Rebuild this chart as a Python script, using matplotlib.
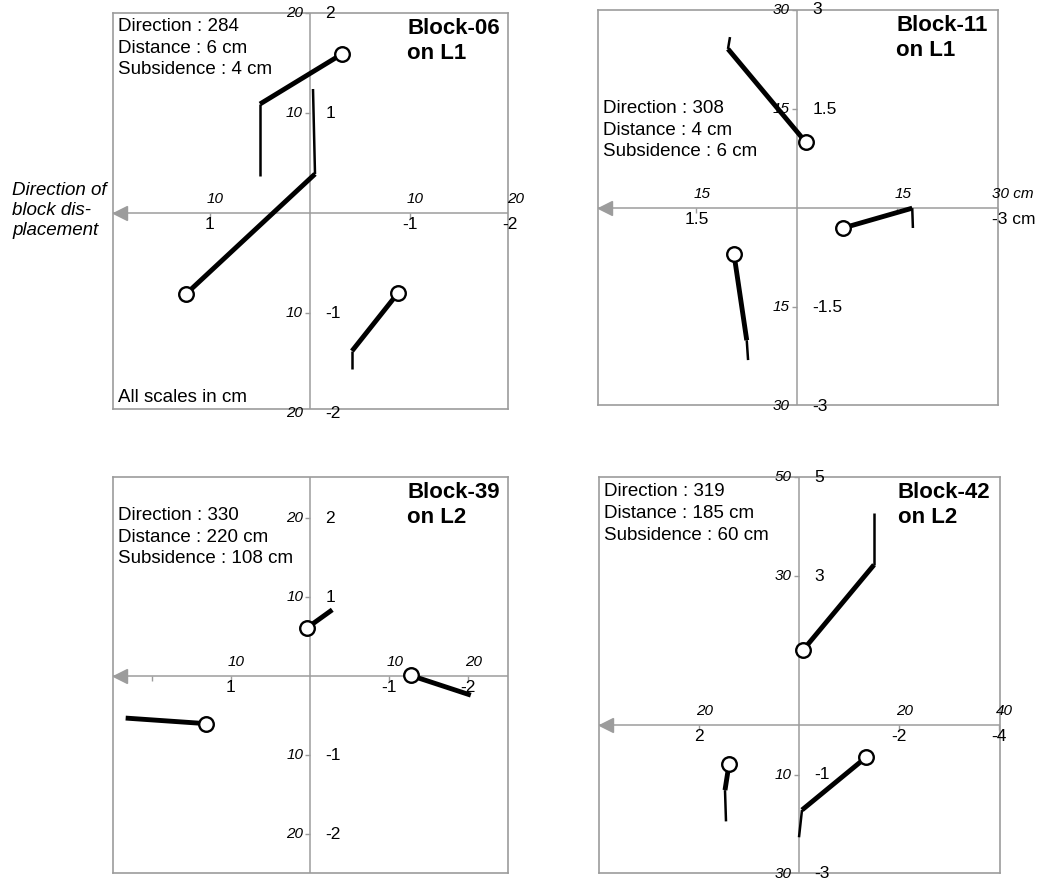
import numpy as np
import matplotlib.pyplot as plt

plt.rcParams['font.family'] = ['Liberation Sans', 'DejaVu Sans']

GRAY = '#9c9c9c'
W, H = 1042, 882

# ---- data (panel units, x axis positive towards the arrow) ----
# Block-06 on L1
b06_circle_x = [-0.32, 1.24, -0.88]
b06_circle_y = [1.59, -0.81, -0.80]
b06_bend_x = [0.50, -0.05, -0.42]
b06_bend_y = [1.09, 0.39, -1.38]
b06_end_x = [0.50, -0.03, -0.42]
b06_end_y = [0.37, 1.24, -1.56]
b06_xticks = [1, -1, -2]
b06_xlab_lo = ['1', '-1', '-2']
b06_xlab_hi = ['10', '10', '20']
b06_yticks = [2, 1, -1, -2]
b06_ylab_r = ['2', '1', '-1', '-2']
b06_ylab_l = ['20', '10', '10', '20']

# Block-11 on L1
b11_circle_x = [-0.13, -0.69, 0.94]
b11_circle_y = [1.00, -0.30, -0.70]
b11_bend_x = [1.03, -1.72, 0.75]
b11_bend_y = [2.41, 0.00, -2.00]
b11_end_x = [1.00, -1.73, 0.73]
b11_end_y = [2.59, -0.30, -2.30]
b11_xticks = [1.5, -1.5, -3]
b11_xlab_lo = ['1.5', '', '-3 cm']
b11_xlab_hi = ['15', '15', '30 cm']
b11_yticks = [3, 1.5, -1.5, -3]
b11_ylab_r = ['3', '1.5', '-1.5', '-3']
b11_ylab_l = ['30', '15', '15', '30']

# Block-39 on L2
b39_circle_x = [0.04, -1.27, 1.32]
b39_circle_y = [0.61, 0.01, -0.60]
b39_bend_x = [-0.28, -2.03, 2.33]
b39_bend_y = [0.84, -0.24, -0.53]
b39_end_x = [-0.28, -2.03, 2.33]
b39_end_y = [0.84, -0.24, -0.53]
b39_xticks = [2, 1, -1, -2]
b39_xlab_lo = ['', '1', '-1', '-2']
b39_xlab_hi = ['', '10', '10', '20']
b39_yticks = [2, 1, -1, -2]
b39_ylab_r = ['2', '1', '-1', '-2']
b39_ylab_l = ['20', '10', '10', '20']

# Block-42 on L2
b42_circle_x = [-0.08, -1.34, 1.40]
b42_circle_y = [1.51, -0.65, -0.79]
b42_bend_x = [-1.50, -0.06, 1.48]
b42_bend_y = [3.23, -1.71, -1.31]
b42_end_x = [-1.50, 0.00, 1.46]
b42_end_y = [4.27, -2.26, -1.94]
b42_xticks = [2, -2, -4]
b42_xlab_lo = ['2', '-2', '-4']
b42_xlab_hi = ['20', '20', '40']
b42_yticks = [5, 3, -1, -3]
b42_ylab_r = ['5', '3', '-1', '-3']
b42_ylab_l = ['50', '30', '10', '30']


def box(left, right, top, bottom):
    return [left / W, 1 - bottom / H, (right - left) / W, (bottom - top) / H]


def draw_panel(ax, xlim, ylim, cx, cy, bx, by, ex, ey,
               xt, xlo, xhi, yt, yr, yl, info, info_y, title):
    ax.set_xlim(*xlim)
    ax.set_ylim(*ylim)
    ax.set_xticks([])
    ax.set_yticks([])
    for s in ax.spines.values():
        s.set_color(GRAY)
        s.set_linewidth(1.2)
    ax.axhline(0, color=GRAY, lw=1.1, zorder=1)
    ax.axvline(0, color=GRAY, lw=1.1, zorder=1)
    # arrow head at left end of horizontal axis
    ax.plot(0.018, 0, marker='<', ms=10, color=GRAY,
            transform=ax.get_yaxis_transform(), clip_on=False)
    ax.plot(xt, np.zeros(len(xt)), ls='none', marker=3, ms=3.5, mew=1, color=GRAY)
    ax.plot(np.zeros(len(yt)), yt, ls='none', marker=0, ms=3.5, mew=1, color=GRAY)

    for x, lo, hi in zip(xt, xlo, xhi):
        ha = 'left' if lo.endswith('cm') else 'center'
        dx = -4 if ha == 'left' else 0
        ax.annotate(lo, (x, 0), xytext=(dx, -3), textcoords='offset points',
                    ha=ha, va='top', fontsize=12.5, annotation_clip=False)
        ha = 'left' if hi.endswith('cm') else 'center'
        dx = -4 if ha == 'left' else 4
        ax.annotate(hi, (x, 0), xytext=(dx, 5), textcoords='offset points',
                    ha=ha, va='bottom', fontsize=11, style='italic',
                    annotation_clip=False)
    for y, r, l in zip(yt, yr, yl):
        ax.annotate(r, (0, y), xytext=(11, 0), textcoords='offset points',
                    ha='left', va='center', fontsize=12.5, annotation_clip=False)
        ax.annotate(l, (0, y), xytext=(-5, 0), textcoords='offset points',
                    ha='right', va='center', fontsize=11, style='italic',
                    annotation_clip=False)

    for i in range(len(cx)):
        ax.plot([cx[i], bx[i]], [cy[i], by[i]], color='black', lw=3.5,
                solid_capstyle='butt', zorder=3)
        ax.plot([bx[i], ex[i]], [by[i], ey[i]], color='black', lw=1.8,
                solid_capstyle='butt', zorder=3)
        ax.plot(cx[i], cy[i], marker='o', ms=10.5, mfc='white', mec='black',
                mew=1.7, zorder=4)

    # info lines, one text per line
    for k, line in enumerate(info):
        ax.annotate(line, (0.012, info_y), xycoords='axes fraction',
                    xytext=(0, -15.6 * k), textcoords='offset points',
                    ha='left', va='top', fontsize=13.5)
    ax.text(0.745, 0.988, title, transform=ax.transAxes, ha='left', va='top',
            fontsize=16, fontweight='bold', linespacing=1.28)


fig = plt.figure(figsize=(W / 100, H / 100), dpi=100)

ax1 = fig.add_axes(box(113, 508, 13, 409))
draw_panel(ax1, (1.97, -1.98), (-1.96, 2.0),
           b06_circle_x, b06_circle_y, b06_bend_x, b06_bend_y, b06_end_x, b06_end_y,
           b06_xticks, b06_xlab_lo, b06_xlab_hi, b06_yticks, b06_ylab_r, b06_ylab_l,
           ['Direction : 284', 'Distance : 6 cm', 'Subsidence : 4 cm'], 0.987,
           'Block-06\non L1')
ax1.text(0.012, 0.03, 'All scales in cm', transform=ax1.transAxes,
         ha='left', va='center', fontsize=13.5)

ax2 = fig.add_axes(box(598, 998, 10, 405))
draw_panel(ax2, (2.97, -3.0), (-2.98, 3.0),
           b11_circle_x, b11_circle_y, b11_bend_x, b11_bend_y, b11_end_x, b11_end_y,
           b11_xticks, b11_xlab_lo, b11_xlab_hi, b11_yticks, b11_ylab_r, b11_ylab_l,
           ['Direction : 308', 'Distance : 4 cm', 'Subsidence : 6 cm'], 0.772,
           'Block-11\non L1')

ax3 = fig.add_axes(box(113, 508, 477, 873))
draw_panel(ax3, (2.49, -2.5), (-2.49, 2.52),
           b39_circle_x, b39_circle_y, b39_bend_x, b39_bend_y, b39_end_x, b39_end_y,
           b39_xticks, b39_xlab_lo, b39_xlab_hi, b39_yticks, b39_ylab_r, b39_ylab_l,
           ['Direction : 330', 'Distance : 220 cm', 'Subsidence : 108 cm'], 0.924,
           'Block-39\non L2')

ax4 = fig.add_axes(box(599, 1000, 477, 873))
draw_panel(ax4, (4.0, -4.02), (-2.98, 5.0),
           b42_circle_x, b42_circle_y, b42_bend_x, b42_bend_y, b42_end_x, b42_end_y,
           b42_xticks, b42_xlab_lo, b42_xlab_hi, b42_yticks, b42_ylab_r, b42_ylab_l,
           ['Direction : 319', 'Distance : 185 cm', 'Subsidence : 60 cm'], 0.984,
           'Block-42\non L2')

fig.text(12 / W, 1 - 182 / H, 'Direction of\nblock dis-\nplacement',
         ha='left', va='top', fontsize=13.5, style='italic', linespacing=1.22)

fig.savefig('out.png', dpi=100)
